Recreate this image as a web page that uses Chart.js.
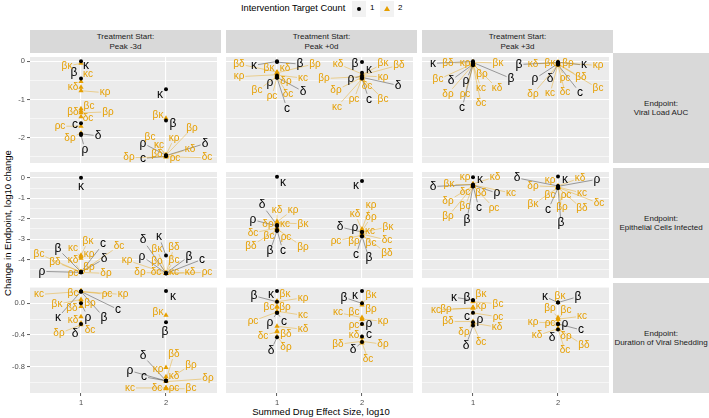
<!DOCTYPE html>
<html>
<head>
<meta charset="utf-8">
<script src="https://cdn.jsdelivr.net/npm/chart.js@4.4.1/dist/chart.umd.min.js"></script>
<style>
  body { margin: 0; width: 709px; height: 418px; overflow: hidden; position: relative; background: #fff;
         font-family: "Liberation Sans", Arial, sans-serif; }
  canvas { position: absolute; }
  .txt { position: absolute; white-space: nowrap; }
  .strip { position: absolute; background: #d9d9d9; color: #1a1a1a; font-size: 8px; line-height: 9.5px;
           display: flex; align-items: center; justify-content: center; text-align: center; }
  .key { position: absolute; background: #f2f2f2; width: 14px; height: 16px; top: 1px; }
</style>
</head>
<body>
<div class="txt" style="left:241px;top:3px;font-size:9.3px;color:#000">Intervention Target Count</div>
<div class="key" style="left:352px"><div style="position:absolute;left:5px;top:6px;width:4px;height:4px;border-radius:50%;background:#000"></div></div>
<div class="txt" style="left:370px;top:3px;font-size:8px;color:#000">1</div>
<div class="key" style="left:380px"><div style="position:absolute;left:4px;top:5px;width:0;height:0;border-left:3px solid transparent;border-right:3px solid transparent;border-bottom:5px solid #E69F00"></div></div>
<div class="txt" style="left:398px;top:3px;font-size:8px;color:#000">2</div>
<div class="txt" style="left:321px;top:411px;transform:translate(-50%,-50%);font-size:9.5px;color:#000">Summed Drug Effect Size, log10</div>
<div class="txt" style="left:7px;top:223px;transform:translate(-50%,-50%) rotate(-90deg);font-size:9.5px;color:#000">Change in Endpoint, log10 change</div>

<script>
"use strict";

// ---- data ----
const targets = ["κ", "β", "δ", "ρ", "c", "βκ", "βδ", "βρ", "βc", "κδ", "κρ", "κc", "δρ", "δc", "ρc"];
const targetCount = [1, 1, 1, 1, 1, 2, 2, 2, 2, 2, 2, 2, 2, 2, 2];
const effectSizes = [1, 2];
const treatmentStarts = ["Peak -3d", "Peak +0d", "Peak +3d"];
const endpoints = ["Viral Load AUC", "Epithelial Cells Infected", "Duration of Viral Shedding"];
const xTicks = [1, 2];
const yTicksViral = [0, -1, -2];
const yTicksEpithelial = [0, -1, -2, -3, -4];
const yTicksShedding = [0, -0.4, -0.8];

// change in endpoint (log10), in target order; m3 = peak -3d, 0 = peak +0d, p3 = peak +3d; e1/e2 = effect size
const viral_m3_e1 = [0.0, -0.45, -1.90, -1.93, -1.62, -0.05, -1.30, -1.35, -1.24, -0.68, -0.77, -0.53, -1.88, -1.45, -1.70];
const viral_m3_e2 = [-0.73, -1.55, -2.47, -2.46, -2.49, -1.49, -2.47, -2.46, -2.45, -2.48, -2.46, -2.47, -2.50, -2.50, -2.50];
const viral_0_e1 = [0.0, -0.02, -0.42, -0.37, -0.43, -0.30, -0.28, -0.30, -0.40, -0.31, -0.35, -0.36, -0.38, -0.42, -0.41];
const viral_0_e2 = [-0.30, -0.02, -0.42, -0.38, -0.45, -0.35, -0.36, -0.40, -0.44, -0.33, -0.38, -0.46, -0.42, -0.41, -0.44];
const viral_p3_e1 = [0.0, -0.03, -0.08, -0.07, -0.10, -0.02, -0.04, -0.05, -0.06, -0.07, -0.02, -0.08, -0.09, -0.10, -0.09];
const viral_p3_e2 = [-0.02, -0.03, -0.07, -0.06, -0.09, -0.02, -0.06, -0.03, -0.08, -0.04, -0.03, -0.08, -0.09, -0.10, -0.07];

const epi_m3_e1 = [0.0, -4.60, -4.60, -4.62, -4.60, -3.78, -4.60, -4.60, -4.60, -4.60, -3.93, -3.85, -4.62, -4.60, -4.62];
const epi_m3_e2 = [-3.80, -4.66, -4.65, -4.66, -4.67, -4.65, -4.66, -4.66, -4.66, -4.67, -4.66, -4.67, -4.67, -4.67, -4.67];
const epi_0_e1 = [0.05, -2.60, -2.30, -2.35, -2.55, -2.20, -2.55, -2.50, -2.50, -2.15, -2.15, -2.25, -2.30, -2.45, -2.45];
const epi_0_e2 = [-0.16, -2.85, -2.65, -2.65, -2.85, -2.65, -2.80, -2.80, -2.80, -2.55, -2.50, -2.70, -2.60, -2.75, -2.80];
const epi_p3_e1 = [0.03, -0.42, -0.33, -0.36, -0.40, -0.33, -0.38, -0.42, -0.42, -0.30, -0.30, -0.35, -0.40, -0.38, -0.40];
const epi_p3_e2 = [0.06, -0.50, -0.40, -0.42, -0.50, -0.48, -0.48, -0.48, -0.46, -0.40, -0.40, -0.45, -0.44, -0.47, -0.46];

const shed_m3_e1 = [0.15, 0.15, -0.26, 0.00, 0.15, 0.05, 0.02, -0.04, 0.16, -0.17, 0.15, 0.15, -0.27, -0.25, 0.15];
const shed_m3_e2 = [0.155, -0.24, -0.98, -0.98, -0.98, -0.15, -0.97, -0.98, -1.08, -0.93, -0.81, -1.07, -0.99, -1.07, -1.07];
const shed_0_e1 = [0.155, 0.02, -0.43, -0.12, -0.12, 0.03, -0.35, -0.05, -0.04, -0.29, 0.02, -0.10, -0.42, -0.36, -0.11];
const shed_0_e2 = [0.155, 0.00, -0.49, -0.26, -0.42, 0.00, -0.48, -0.02, -0.20, -0.43, -0.20, -0.18, -0.48, -0.50, -0.26];
const shed_p3_e1 = [0.04, 0.04, -0.28, -0.24, -0.12, 0.03, -0.23, -0.06, 0.02, -0.25, -0.05, -0.06, -0.26, -0.27, -0.12];
const shed_p3_e2 = [0.01, 0.01, -0.33, -0.26, -0.26, 0.01, -0.32, -0.18, -0.20, -0.32, -0.25, -0.20, -0.32, -0.32, -0.26];

// ---- label placement (pixel offset of each label from its point, like ggrepel did) ----
const nudge_viral_m3_e1 = [[5,4],[-7,-6],[17,2],[4,15],[-6,2],[-14,3],[-8,1],[27,-1],[8,-2],[-8,0],[24,2],[7,-7],[-11,5],[7,2],[-21,0]];
const nudge_viral_m3_e2 = [[-6,5],[7,3],[39,-12],[-23,-12],[-23,2],[-8,-3],[-9,-1],[26,-27],[-16,-18],[24,-7],[8,-17],[-7,-10],[-37,1],[41,1],[9,2]];
const nudge_viral_0_e1 = [[-23,4],[23,2],[26,14],[-7,7],[10,31],[-8,-5],[-38,-8],[38,-9],[-20,14],[8,-5],[-38,2],[26,3],[9,5],[11,17],[-5,19]];
const nudge_viral_0_e2 = [[7,-3],[-7,2],[36,8],[-11,3],[7,21],[21,-11],[37,-10],[-38,2],[21,21],[-24,-10],[21,1],[-25,28],[-26,13],[5,9],[-8,21]];
const nudge_viral_p3_e1 = [[-40,2],[38,16],[-22,16],[-7,17],[-11,43],[25,1],[-25,0],[9,11],[-35,16],[24,24],[-8,1],[8,24],[-25,29],[8,38],[-8,29]];
const nudge_viral_p3_e2 = [[26,3],[-39,2],[-8,15],[-23,15],[22,28],[-8,1],[23,14],[10,1],[40,24],[-25,1],[40,3],[-8,29],[-25,29],[7,27],[7,14]];
const nudge_epi_m3_e1 = [[0,9],[-23,-23],[23,-13],[-39,-1],[22,-28],[7,-14],[-26,-10],[8,-5],[-42,-18],[-8,-12],[8,-4],[-8,-8],[25,1],[38,-26],[-8,1]];
const nudge_epi_m3_e2 = [[-7,-19],[23,-17],[-23,-33],[-24,-17],[36,-14],[-9,-24],[8,-26],[-9,-12],[8,-13],[24,-1],[-39,-13],[8,-1],[-26,-1],[-10,-1],[41,-1]];
const nudge_epi_0_e1 = [[6,6],[-7,20],[-15,-20],[-24,-6],[6,21],[26,1],[-26,16],[26,18],[-8,7],[0,-12],[16,-12],[8,0],[-9,-1],[-24,5],[9,9]];
const nudge_epi_0_e2 = [[-6,5],[7,22],[-22,-5],[-7,-4],[-6,19],[26,-5],[25,18],[-8,6],[9,8],[-7,-16],[9,-24],[8,-2],[9,-14],[25,6],[-26,6]];
const nudge_epi_p3_e1 = [[7,3],[-6,33],[-40,2],[24,8],[6,22],[-24,0],[8,8],[-25,30],[-8,20],[22,-7],[-8,-7],[38,8],[-25,15],[-8,7],[21,22]];
const nudge_epi_p3_e2 = [[7,3],[3,35],[-41,-8],[39,-7],[-10,22],[-25,17],[24,21],[4,20],[-8,8],[22,-8],[-8,-6],[24,6],[-25,-1],[41,16],[8,8]];
const nudge_shed_m3_e1 = [[-23,26],[23,26],[-6,10],[7,14],[37,18],[-24,5],[-9,6],[9,-3],[-8,3],[-8,3],[42,3],[-42,3],[-22,9],[9,7],[26,3]];
const nudge_shed_m3_e2 = [[7,6],[-1,9],[-23,-25],[-36,-10],[-22,-4],[-8,-3],[8,-26],[25,-16],[25,0],[8,-1],[-8,2],[-36,0],[42,-3],[-9,0],[8,0]];
const nudge_shed_0_e1 = [[-6,4],[-23,-6],[-6,13],[-7,10],[7,9],[8,-7],[9,3],[8,0],[-8,1],[26,3],[26,-4],[26,4],[9,11],[-14,4],[-24,9]];
const nudge_shed_0_e2 = [[-7,5],[-18,-6],[-9,8],[7,0],[7,-2],[9,-8],[-24,3],[9,4],[-8,-7],[-8,-2],[21,2],[-24,-5],[21,3],[6,16],[-8,1]];
const nudge_shed_p3_e1 = [[-19,-3],[-6,-3],[-7,20],[7,-3],[-6,4],[8,-7],[-25,0],[-27,1],[25,2],[24,4],[8,-1],[-37,2],[-9,8],[8,18],[25,4]];
const nudge_shed_p3_e2 = [[-13,-6],[20,-6],[-6,8],[7,0],[23,6],[2,-6],[26,17],[-8,-9],[8,-9],[-21,7],[-25,-1],[24,-3],[8,8],[7,22],[-8,-1]];

const panelValues = [
  [[viral_m3_e1, viral_m3_e2], [viral_0_e1, viral_0_e2], [viral_p3_e1, viral_p3_e2]],
  [[epi_m3_e1, epi_m3_e2], [epi_0_e1, epi_0_e2], [epi_p3_e1, epi_p3_e2]],
  [[shed_m3_e1, shed_m3_e2], [shed_0_e1, shed_0_e2], [shed_p3_e1, shed_p3_e2]],
];
const panelNudges = [
  [[nudge_viral_m3_e1, nudge_viral_m3_e2], [nudge_viral_0_e1, nudge_viral_0_e2], [nudge_viral_p3_e1, nudge_viral_p3_e2]],
  [[nudge_epi_m3_e1, nudge_epi_m3_e2], [nudge_epi_0_e1, nudge_epi_0_e2], [nudge_epi_p3_e1, nudge_epi_p3_e2]],
  [[nudge_shed_m3_e1, nudge_shed_m3_e2], [nudge_shed_0_e1, nudge_shed_0_e2], [nudge_shed_p3_e1, nudge_shed_p3_e2]],
];

// ---- layout ----
const colLeft = [30, 226, 422];
const rowTop = [53, 168, 283];
const PANEL_W = 191;
const PANEL_H = 110;
const AXIS_W = 30;
const AXIS_H = 20;
const rowTicks = [yTicksViral, yTicksEpithelial, yTicksShedding];
const rowLimits = [[-2.664, 0.114], [-4.894, 0.282], [-1.134, 0.207]];
const rowDecimals = [0, 0, 1];
const FONT = "'Liberation Sans', Arial, sans-serif";
const ORANGE = "#E69F00";

Chart.defaults.font.family = FONT;

// strips
treatmentStarts.forEach((s, c) => {
  const d = document.createElement("div");
  d.className = "strip";
  d.style.cssText = `left:${colLeft[c]}px;top:30px;width:${PANEL_W}px;height:23px;`;
  d.innerHTML = "Treatment Start:<br>" + s;
  document.body.appendChild(d);
});
endpoints.forEach((e, r) => {
  const d = document.createElement("div");
  d.className = "strip";
  d.style.cssText = `left:613px;top:${rowTop[r]}px;width:96px;height:${PANEL_H}px;padding-right:0;`;
  d.innerHTML = "Endpoint:<br>" + e;
  document.body.appendChild(d);
});

const panelBackground = {
  id: "panelBackground",
  beforeDraw(chart) {
    const { ctx, chartArea: a } = chart;
    ctx.save();
    ctx.fillStyle = "#EBEBEB";
    ctx.fillRect(a.left, a.top, a.right - a.left, a.bottom - a.top);
    ctx.restore();
  },
};

const labelGeom = (ctx, el, pt, single) => {
  const fs = single ? 12 : 10;
  ctx.font = `${fs}px ${FONT}`;
  const w = ctx.measureText(pt.name).width;
  return { fs, w, lx: el.x + pt.nudge[0], ly: el.y + pt.nudge[1] };
};

const forEachLabel = (chart, fn) => {
  chart.data.datasets.forEach((ds, d) => {
    const meta = chart.getDatasetMeta(d);
    ds.data.forEach((pt, i) => fn(chart.ctx, meta.data[i], pt, d === 0));
  });
};

const repelLabels = {
  id: "repelLabels",
  beforeDatasetsDraw(chart) {
    forEachLabel(chart, (ctx, el, pt, single) => {
      ctx.save();
      const g = labelGeom(ctx, el, pt, single);
      const vx = el.x - g.lx, vy = el.y - g.ly;
      const hw = g.w / 2 + 1, hh = g.fs * 0.4 + 1;
      const t = Math.min(vx ? hw / Math.abs(vx) : Infinity, vy ? hh / Math.abs(vy) : Infinity);
      if (t < 1) {
        const ex = g.lx + vx * t, ey = g.ly + vy * t;
        if (Math.hypot(el.x - ex, el.y - ey) > 4) {
          ctx.strokeStyle = single ? "rgba(0,0,0,0.45)" : "rgba(230,159,0,0.5)";
          ctx.lineWidth = 0.8;
          ctx.beginPath();
          ctx.moveTo(el.x, el.y);
          ctx.lineTo(ex, ey);
          ctx.stroke();
        }
      }
      ctx.restore();
    });
  },
  afterDatasetsDraw(chart) {
    forEachLabel(chart, (ctx, el, pt, single) => {
      ctx.save();
      const g = labelGeom(ctx, el, pt, single);
      ctx.fillStyle = single ? "#000000" : ORANGE;
      ctx.textAlign = "center";
      ctx.textBaseline = "middle";
      ctx.fillText(pt.name, g.lx, g.ly);
      ctx.restore();
    });
  },
};

const near = (a, b) => Math.abs(a - b) < 1e-9;

function buildPanel(r, c) {
  const canvas = document.createElement("canvas");
  canvas.width = PANEL_W + AXIS_W;
  canvas.height = PANEL_H + AXIS_H;
  canvas.style.left = colLeft[c] - AXIS_W + "px";
  canvas.style.top = rowTop[r] + "px";
  document.body.appendChild(canvas);

  const singles = [];
  const pairs = [];
  effectSizes.forEach((e, k) => {
    const vals = panelValues[r][c][k];
    const nud = panelNudges[r][c][k];
    targets.forEach((t, i) => {
      const pt = { x: e, y: vals[i], name: t, nudge: nud[i] };
      (targetCount[i] === 1 ? singles : pairs).push(pt);
    });
  });

  const majors = rowTicks[r];
  const step = majors[0] - majors[1];
  const [yMin, yMax] = rowLimits[r];
  const minors = [majors[0] + step / 2].concat(majors.map((v) => v - step / 2)).filter((v) => v > yMin && v < yMax);
  const isMajor = (v) => majors.some((m) => near(m, v));
  const leftCol = c === 0;
  const bottomRow = r === 2;

  new Chart(canvas.getContext("2d"), {
    type: "scatter",
    data: {
      datasets: [
        { label: "1", data: singles, pointStyle: "circle", pointRadius: 2, backgroundColor: "#000000",
          borderColor: "#000000", borderWidth: 0, clip: false },
        { label: "2", data: pairs, pointStyle: "triangle", pointRadius: 3, backgroundColor: ORANGE,
          borderColor: ORANGE, borderWidth: 0, clip: false },
      ],
    },
    plugins: [panelBackground, repelLabels],
    options: {
      responsive: false,
      animation: false,
      events: [],
      layout: { padding: 0 },
      plugins: { legend: { display: false }, tooltip: { enabled: false } },
      scales: {
        x: {
          type: "linear",
          bounds: "data",
          min: 0.4,
          max: 2.6,
          afterBuildTicks: (s) => { s.ticks = xTicks.map((v) => ({ value: v })); },
          afterFit: (s) => { s.height = AXIS_H; s.paddingLeft = 0; s.paddingRight = 0; },
          ticks: { display: bottomRow, autoSkip: false, maxRotation: 0, padding: 2, color: "#4D4D4D",
                   font: { size: 7.5 }, callback: (v) => String(v) },
          grid: { color: "#FFFFFF", lineWidth: 1.1, drawTicks: bottomRow, tickLength: 3,
                  tickColor: "#333333", tickWidth: 0.8 },
          border: { display: false },
        },
        y: {
          type: "linear",
          bounds: "data",
          min: yMin,
          max: yMax,
          afterBuildTicks: (s) => { s.ticks = majors.concat(minors).map((v) => ({ value: v })); },
          afterFit: (s) => { s.width = AXIS_W; s.paddingTop = 0; s.paddingBottom = 0; },
          ticks: { display: leftCol, autoSkip: false, padding: 2, color: "#4D4D4D", font: { size: 7.5 },
                   callback: (v) => (isMajor(v) ? v.toFixed(rowDecimals[r]) : "") },
          grid: {
            color: "#FFFFFF",
            lineWidth: (ctx) => (ctx.tick && isMajor(ctx.tick.value) ? 1.1 : 0.55),
            drawTicks: leftCol,
            tickLength: 3,
            tickColor: (ctx) => (ctx.tick && isMajor(ctx.tick.value) ? "#333333" : "rgba(0,0,0,0)"),
            tickWidth: 0.8,
          },
          border: { display: false },
        },
      },
    },
  });
}

for (let r = 0; r < 3; r++) {
  for (let c = 0; c < 3; c++) {
    buildPanel(r, c);
  }
}
</script>
</body>
</html>
